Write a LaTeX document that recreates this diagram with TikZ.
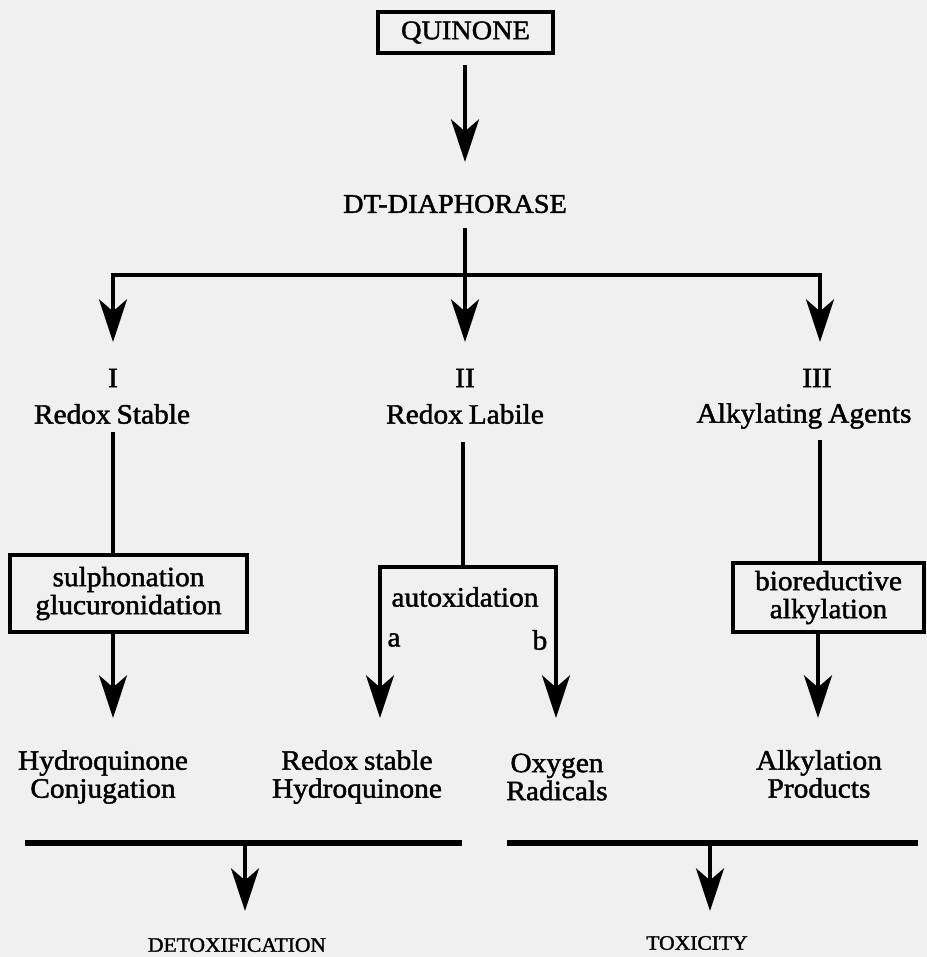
\documentclass[tikz,border=0pt]{standalone}
\usepackage{fontspec}
\setmainfont[FakeStretch=1.05,FakeBold=1.6,WordSpace=0.8]{Liberation Serif}
\usetikzlibrary{arrows.meta}
\definecolor{bg}{RGB}{240,240,240}
\begin{document}
\begin{tikzpicture}[x=0.75pt,y=-0.75pt,
  every node/.style={inner sep=0pt, outer sep=0pt, align=center},
  txt/.style={font=\fontsize{21}{21}\selectfont},
  capsf/.style={font=\fontsize{20.2}{21}\selectfont},
  smallcapsf/.style={font=\fontsize{15.4}{16}\selectfont},
  boxed/.style={draw, line width=2.6pt},
  ln/.style={line width=2.6pt},
  bar/.style={line width=4.4pt},
  arr/.style={line width=2.6pt, -{Stealth[length=32pt,width=21pt,inset=9pt]}}
]
\fill[bg] (0,0) rectangle (927,957);
\useasboundingbox (0,0) rectangle (927,957);

% top
\node[boxed, capsf, minimum width=131pt, minimum height=31pt] (quinone) at (465.5,32.5) {QUINONE};
\node[capsf] (dt) at (455,204) {DT-DIAPHORASE};

\coordinate (qa) at (465,65);
\coordinate (qb) at (465,162);
\draw[arr] (qa) -- (qb);

\coordinate (dtb) at (465,228);
\coordinate (tI) at (113,342);
\coordinate (tII) at (465,342);
\coordinate (tIII) at (820,342);
\coordinate (hub) at (465,275);
\draw[arr] (hub) -| (tI);
\draw[arr] (hub) -| (tIII);
\draw[arr] (dtb) -- (tII);

% class labels
\node[txt] (nI) at (113,378) {I};
\node[txt] (nII) at (465,378) {II};
\node[txt] (nIII) at (817,378) {III};
\node[txt] (rs) at (112,414) {Redox Stable};
\node[txt] (rl) at (465,414) {Redox Labile};
\node[txt] (aa) at (804,416) {Alkylating Agents};

% boxes
\node[boxed, txt, minimum width=177.75pt, minimum height=57.75pt] (sulph) at (128.5,593.5) {sulphonation\\glucuronidation};
\node[boxed, txt, minimum width=143.25pt, minimum height=51.75pt] (bio) at (828.5,597.5) {bioreductive\\alkylation};

% branch I
\coordinate (s1) at (113,432);
\coordinate (s2) at (113,555);
\draw[ln] (s1) -- (s2);
\coordinate (s3) at (113,632);
\coordinate (s4) at (113,718);
\draw[arr] (s3) -- (s4);

% branch II
\coordinate (m1) at (463,442);
\coordinate (m2) at (463,567);
\draw[ln] (m1) -- (m2);
\coordinate (ta) at (380,718);
\coordinate (tb) at (556,718);
\draw[arr] (m2) -| (ta);
\draw[arr] (m2) -| (tb);
\node[txt] (auto) at (465,597) {autoxidation};
\node[txt] (la) at (394,640) {a};
\node[txt] (lb) at (540,640) {b};

% branch III
\coordinate (r1) at (820,440);
\coordinate (r2) at (820,563);
\draw[ln] (r1) -- (r2);
\coordinate (r3) at (818,632);
\coordinate (r4) at (818,718);
\draw[arr] (r3) -- (r4);

% products
\node[txt] (hc) at (103,777) {Hydroquinone\\Conjugation};
\node[txt] (rh) at (357,777) {Redox stable\\Hydroquinone};
\node[txt] (ox) at (557,777) {Oxygen\\Radicals};
\node[txt] (ap) at (819,774) {Alkylation\\Products};

% bottom bars
\coordinate (bl1) at (25,843);
\coordinate (bl2) at (462,843);
\coordinate (br1) at (507,843);
\coordinate (br2) at (918,843);
\draw[bar] (bl1) -- (bl2);
\draw[bar] (br1) -- (br2);
\coordinate (dl1) at (245,843);
\coordinate (dl2) at (245,911);
\coordinate (dr1) at (710,843);
\coordinate (dr2) at (710,911);
\draw[arr] (dl1) -- (dl2);
\draw[arr] (dr1) -- (dr2);
\node[smallcapsf] (detox) at (237,945) {DETOXIFICATION};
\node[smallcapsf] (tox) at (697,943) {TOXICITY};
\end{tikzpicture}
\end{document}
